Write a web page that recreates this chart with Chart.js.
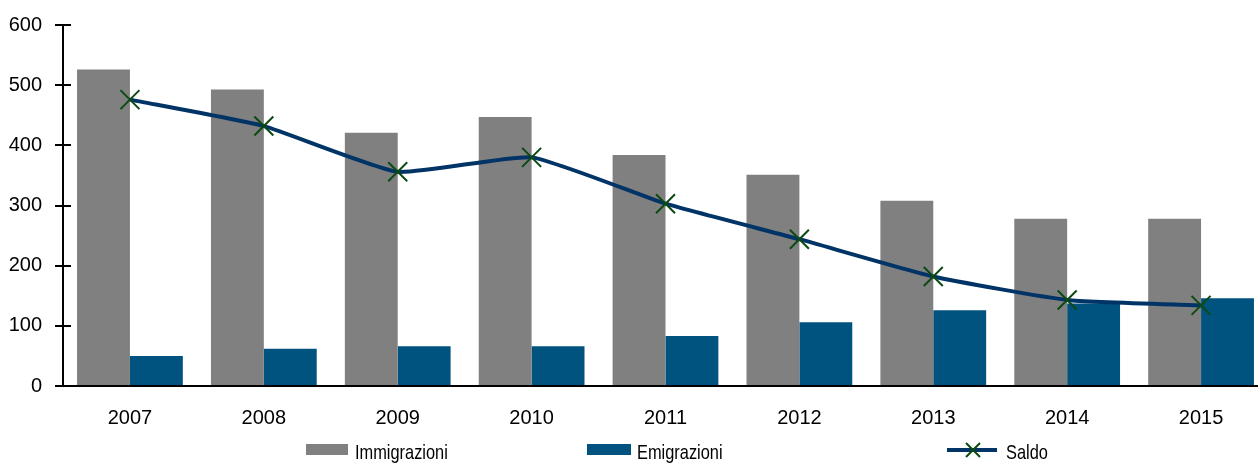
<!DOCTYPE html>
<html>
<head>
<meta charset="utf-8">
<script src="https://cdn.jsdelivr.net/npm/chart.js@4/dist/chart.umd.min.js"></script>
<style>
    html, body { margin: 0; padding: 0; background: #fff; overflow: hidden; }
    #wrap { position: relative; width: 1258px; height: 463px; overflow: hidden; }
    #chart { display: block; }
    #legend { position: absolute; left: 0; top: 0; width: 1258px; height: 463px; pointer-events: none;
              font-family: 'Liberation Sans', Arial, sans-serif; font-size: 21px; color: #000; }
    .box { position: absolute; top: 444px; height: 11px; }
    .lbl { position: absolute; top: 442px; line-height: 20px; white-space: nowrap;
           transform: scaleX(0.78); transform-origin: 0 0; }
</style>
</head>
<body>
<div id="wrap">
    <!-- the plot area runs a little past the right edge, as in the original -->
    <canvas id="chart" width="1270" height="463"></canvas>
    <div id="legend">
        <div class="box" style="left:306px;width:42px;background:#808080"></div>
        <span class="lbl" style="left:355px">Immigrazioni</span>
        <div class="box" style="left:587px;width:44px;background:#00537f"></div>
        <span class="lbl" style="left:637px">Emigrazioni</span>
        <canvas id="saldoKey" width="52" height="20" style="position:absolute;left:946px;top:440px"></canvas>
        <span class="lbl" style="left:1006px">Saldo</span>
    </div>
</div>
<script>
// Anni
var years = ['2007', '2008', '2009', '2010', '2011', '2012', '2013', '2014', '2015'];

// Valori (migliaia)
var immigrazioni = [526, 493, 421, 447, 384, 351, 308, 278, 278];
var emigrazioni = [50, 62, 66, 66, 83, 106, 126, 137, 146];
var saldo = [476, 432, 356, 380, 303, 244, 182, 143, 134];

var yTicks = [0, 100, 200, 300, 400, 500, 600];

var FONT = "'Liberation Sans', Arial, sans-serif";
var lineColor = '#003366';
var markColor = '#0b4a12';
var markSize = 9.5;

// cross tick marks on the y axis + x axis line
var axisTicks = {
    id: 'axisTicks',
    afterDraw: function (chart) {
        var c = chart.ctx, y = chart.scales.y, x0 = chart.chartArea.left;
        c.save();
        c.strokeStyle = '#000';
        c.lineWidth = 2;
        yTicks.forEach(function (v) {
            var py = Math.round(y.getPixelForValue(v));
            c.beginPath();
            c.moveTo(x0 - 8, py);
            c.lineTo(x0 + 8, py);
            c.stroke();
        });
        c.beginPath();
        c.moveTo(x0 - 8, chart.chartArea.bottom);
        c.lineTo(chart.width, chart.chartArea.bottom);
        c.stroke();
        c.restore();
    }
};

// X markers on the Saldo line (drawn at the line's own point positions)
var saldoMarks = {
    id: 'saldoMarks',
    afterDatasetsDraw: function (chart) {
        var c = chart.ctx;
        var meta = chart.getDatasetMeta(0);
        c.save();
        c.strokeStyle = markColor;
        c.lineWidth = 2;
        meta.data.forEach(function (p) {
            c.beginPath();
            c.moveTo(p.x - markSize, p.y - markSize);
            c.lineTo(p.x + markSize, p.y + markSize);
            c.moveTo(p.x + markSize, p.y - markSize);
            c.lineTo(p.x - markSize, p.y + markSize);
            c.stroke();
        });
        c.restore();
    }
};

var ctx = document.getElementById('chart').getContext('2d');
new Chart(ctx, {
    type: 'bar',
    data: {
        labels: years,
        datasets: [
            {
                type: 'line',
                label: 'Saldo',
                data: saldo,
                order: 0,
                borderColor: lineColor,
                borderWidth: 4,
                tension: 0.15,
                pointRadius: 0,
                pointHoverRadius: 0,
                fill: false
            },
            {
                label: 'Immigrazioni',
                data: immigrazioni,
                order: 1,
                backgroundColor: '#808080',
                borderWidth: 0
            },
            {
                label: 'Emigrazioni',
                data: emigrazioni,
                order: 1,
                backgroundColor: '#00537f',
                borderWidth: 0
            }
        ]
    },
    options: {
        responsive: false,
        animation: false,
        layout: { padding: { top: 25, right: 2, bottom: 17, left: 0 } },
        datasets: { bar: { categoryPercentage: 0.79, barPercentage: 1.0 } },
        plugins: {
            legend: { display: false },
            tooltip: { enabled: false }
        },
        scales: {
            x: {
                // invisible tick marks push the labels down
                grid: { display: true, drawOnChartArea: false, drawTicks: true, tickLength: 20, color: 'rgba(0,0,0,0)' },
                border: { display: false },
                ticks: { color: '#000', font: { family: FONT, size: 20 }, padding: 0, maxRotation: 0 },
                afterFit: function (s) { s.height = 60; }
            },
            y: {
                min: 0,
                max: 600,
                afterBuildTicks: function (s) { s.ticks = yTicks.map(function (v) { return { value: v }; }); },
                grid: { display: false, drawTicks: false },
                border: { display: true, color: '#000', width: 2 },
                ticks: { color: '#000', font: { family: FONT, size: 20 }, padding: 21 },
                afterFit: function (s) { s.width = 63; s.paddingTop = 0; s.paddingBottom = 0; }
            }
        }
    },
    plugins: [axisTicks, saldoMarks]
});

// legend key for the line series
var k = document.getElementById('saldoKey').getContext('2d');
k.strokeStyle = lineColor;
k.lineWidth = 4;
k.beginPath(); k.moveTo(1, 10); k.lineTo(51, 10); k.stroke();
k.strokeStyle = markColor;
k.lineWidth = 2;
k.beginPath();
k.moveTo(20, 3); k.lineTo(34, 17);
k.moveTo(34, 3); k.lineTo(20, 17);
k.stroke();
</script>
</body>
</html>
